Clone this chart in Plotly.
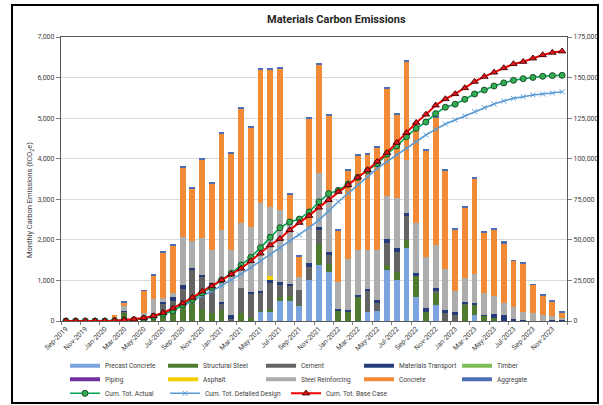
import plotly.graph_objects as go

months = ["Sep-2019","Oct-2019","Nov-2019","Dec-2019","Jan-2020","Feb-2020","Mar-2020","Apr-2020",
          "May-2020","Jun-2020","Jul-2020","Aug-2020","Sep-2020","Oct-2020","Nov-2020","Dec-2020",
          "Jan-2021","Feb-2021","Mar-2021","Apr-2021","May-2021","Jun-2021","Jul-2021","Aug-2021",
          "Sep-2021","Oct-2021","Nov-2021","Dec-2021","Jan-2022","Feb-2022","Mar-2022","Apr-2022",
          "May-2022","Jun-2022","Jul-2022","Aug-2022","Sep-2022","Oct-2022","Nov-2022","Dec-2022",
          "Jan-2023","Feb-2023","Mar-2023","Apr-2023","May-2023","Jun-2023","Jul-2023","Aug-2023",
          "Sep-2023","Oct-2023","Nov-2023","Dec-2023"]

precast = [0,0,0,0,0,0,0,0, 0,0,0,0,0,0,0,0, 0,0,0,0,230,230,500,500,
           370,1010,1380,1215,0,0,0,230, 250,1260,1010,1790,600,0,390,0,
           0,0,150,0,0,0,0,0, 0,0,0,0]
structural_steel = [0,0,0,0,0,0,200,0, 0,60,180,180,350,470,300,200, 260,20,200,70,20,60,80,120,
                    20,0,530,200,250,220,600,0, 0,120,200,210,500,230,300,0,
                    0,400,250,130,80,0,0,0, 0,0,0,0]
cement = [0,0,0,0,0,20,30,15, 40,130,250,320,450,800,780,700, 170,20,610,620,440,650,310,250,
          380,330,330,200,0,0,0,510, 200,550,500,580,0,0,50,200,
          150,20,0,0,0,0,0,0, 0,0,0,0]
materials_transport = [0,0,0,0,0,0,20,0, 0,0,40,80,80,30,60,40, 40,100,0,20,50,60,60,50,
                       0,80,80,80,40,50,40,60, 70,80,80,80,80,80,80,60,
                       60,60,50,20,100,160,50,20, 10,0,30,20]
timber = [0]*52
piping = [0]*52
asphalt = [0,0,0,0,0,0,0,0, 0,0,0,0,0,0,0,0, 0,0,0,0,0,100,0,0,
           0,0,0,0,0,0,0,0, 0,0,0,0,0,0,0,0, 0,0,0,0,0,0,0,0, 0,0,0,0]
steel_reinforcing = [0,0,0,0,0,30,120,15, 150,350,90,100,1190,680,900,810, 1770,1620,1600,1600,2160,1700,1780,1570,
                     310,900,1320,1500,680,1270,1100,950, 1230,1080,1230,1310,1240,1270,1050,1030,
                     540,590,700,530,430,280,290,190, 180,160,90,60]
concrete = [0,0,0,0,10,100,90,0, 550,570,1140,1180,1720,1290,1930,1650, 2370,2360,2830,2450,3300,3390,3500,630,
            520,2670,2660,1870,1270,2170,2340,2350, 2530,2650,2080,2430,2300,2620,3150,2430,
            1500,1730,2370,1510,1650,1460,1140,1200, 700,470,370,140]
aggregate = [0,0,0,0,0,0,20,0, 20,25,30,30,30,30,30,30, 30,30,30,30,30,30,40,30,
             20,30,50,30,30,30,30,30, 30,30,30,40,30,30,30,30,
             30,30,30,30,30,60,20,20, 20,20,30,35]

cum_actual = [0,0,0,0,0,200,600,700, 1500,2600,4300,6200,10000,13300,17300,20700,
              25300,29400,34500,39200,45200,51600,57500,61000, 62800,67200,73400,78500,80500,84300,88500,92600,
              97000,102800,107800,113600,118700,122600,127800,131700, 133600,136600,139900,142300,144800,146700,148300,149300,
              150100,150800,151200,151400]
cum_design = [0,0,0,0,0,100,400,800, 1500,2700,4600,6800,9400,12300,15400,18500,
              21800,25300,29000,32900,37000,40900,45000,49100, 53000,57500,62200,68000,73500,78700,83800,88900,
              94100,98200,102300,106400,110500,114600,118100,121400, 123900,126300,129000,131500,133700,135600,137200,138200,
              139300,139900,140500,141300]
cum_base = [0,0,0,0,0,200,600,1000, 1800,3100,5100,7800,10900,14400,18300,21500,
            25200,28800,32400,37000,41700,46800,50700,56100, 60600,64900,70000,74600,79700,83800,88500,93000,
            98200,103700,109900,116000,122200,127300,132900,136800, 139900,143600,147500,150600,153200,155900,158400,159800,
            161900,163900,165400,166200]

bar_series = [
    ("Precast Concrete", precast, "#7BA3DF"),
    ("Structural Steel", structural_steel, "#4F7B31"),
    ("Cement", cement, "#646464"),
    ("Materials Transport", materials_transport, "#263C78"),
    ("Timber", timber, "#7DBE5A"),
    ("Piping", piping, "#7030A0"),
    ("Asphalt", asphalt, "#F2D000"),
    ("Steel Reinforcing", steel_reinforcing, "#ADADAD"),
    ("Concrete", concrete, "#F28A36"),
    ("Aggregate", aggregate, "#4E6FB3"),
]

FONT = "Roboto, Arial, sans-serif"

fig = go.Figure()
for name, vals, col in bar_series:
    fig.add_trace(go.Bar(x=months, y=vals, name=name, marker_color=col,
                         marker_line_width=0, showlegend=False, hoverinfo="skip"))

# legend entries for bar series (thick short line, like Excel)
for k, (name, vals, col) in enumerate(bar_series):
    fig.add_trace(go.Scatter(x=[None], y=[None], mode="lines", name=name,
                             line=dict(color=col, width=4),
                             legend="legend" if k < 5 else "legend2",
                             legendwidth=53, showlegend=True))

fig.add_trace(go.Scatter(x=months, y=cum_design, name="Cum. Tot. Detailed Design", yaxis="y2",
                         mode="lines+markers", line=dict(color="#5B9BD5", width=1.6),
                         marker=dict(symbol="x-thin", size=5, line=dict(color="#5B9BD5", width=1)),
                         legend="legend3", legendrank=2))
fig.add_trace(go.Scatter(x=months, y=cum_actual, name="Cum. Tot. Actual", yaxis="y2",
                         mode="lines+markers", line=dict(color="#00A650", width=1.6),
                         marker=dict(symbol="circle", size=6, color="#33AE52",
                                     line=dict(color="#1B4D2A", width=1)),
                         legend="legend3", legendrank=1, legendwidth=55))
fig.add_trace(go.Scatter(x=months, y=cum_base, name="Cum. Tot. Base Case", yaxis="y2",
                         mode="lines+markers", line=dict(color="#F00000", width=2),
                         marker=dict(symbol="triangle-up", size=6.5, color="#E3141B",
                                     line=dict(color="#3A0000", width=0.9)),
                         legend="legend3", legendrank=3))

L, R, T, B = 61, 36, 37, 84
W, H = 603, 405
pw, ph = W - L - R, H - T - B

def px(x):
    return (x - L) / pw

def py(y):
    return (H - B - y) / ph

legfont = dict(family=FONT, size=6.6, color="#404040")
common_leg = dict(orientation="h", xanchor="left", yanchor="middle", bgcolor="rgba(0,0,0,0)",
                  borderwidth=0, font=legfont, itemwidth=30, traceorder="normal")

fig.update_layout(
    width=W, height=H,
    margin=dict(l=L, r=R, t=T, b=B, autoexpand=False),
    paper_bgcolor="white", plot_bgcolor="white",
    barmode="stack", bargap=0.4,
    font=dict(family=FONT, size=7, color="#404040"),
    xaxis=dict(type="category", range=[-0.5, len(months) - 0.5], tickangle=-45,
               tickmode="linear", tick0=0, dtick=2,
               tickson="boundaries", ticks="outside", ticklen=3, tickcolor="#7F7F7F",
               showline=True, linecolor="#595959", linewidth=1.2, mirror=True,
               tickfont=dict(family=FONT, size=7, color="#404040"), automargin=False,
               showgrid=False),
    yaxis=dict(range=[0, 7000], dtick=1000, tickformat=",", ticks="outside", ticklen=4,
               tickcolor="#7F7F7F", showline=True, linecolor="#595959", linewidth=1.2, mirror=True,
               gridcolor="#D9D9D9", gridwidth=1, zeroline=False,
               tickfont=dict(family=FONT, size=7, color="#404040"), automargin=False),
    yaxis2=dict(range=[0, 175000], dtick=25000, tickformat=",", overlaying="y", side="right",
                ticks="outside", ticklen=4, tickcolor="#7F7F7F", showline=True,
                linecolor="#595959", linewidth=1.2, showgrid=False, zeroline=False,
                tickfont=dict(family=FONT, size=7, color="#404040"), automargin=False),
    legend=dict(x=px(65), y=py(365.7), **common_leg),
    legend2=dict(x=px(65), y=py(379.3), **common_leg),
    legend3=dict(x=px(65), y=py(393.3), **common_leg),
    annotations=[
        dict(text="<b>Materials Carbon Emissions</b>", xref="paper", yref="paper",
             x=px(336), y=py(20), showarrow=False, xanchor="center", yanchor="middle",
             font=dict(family=FONT, size=11, color="#262626")),
        dict(text="Monthly Carbon Emissions (tCO<sub>2</sub>e)", xref="paper", yref="paper",
             x=px(30), y=py(200), showarrow=False, textangle=-90, xanchor="center", yanchor="middle",
             font=dict(family=FONT, size=7.5, color="#404040")),
    ],
    shapes=[dict(type="rect", xref="paper", yref="paper", x0=px(12), x1=px(598),
                 y0=py(403), y1=py(5), line=dict(color="black", width=2), fillcolor="rgba(0,0,0,0)",
                 layer="above")],
)

fig.write_html("out.html", config={"displayModeBar": False},
               post_script="document.body.style.margin='0px';")
